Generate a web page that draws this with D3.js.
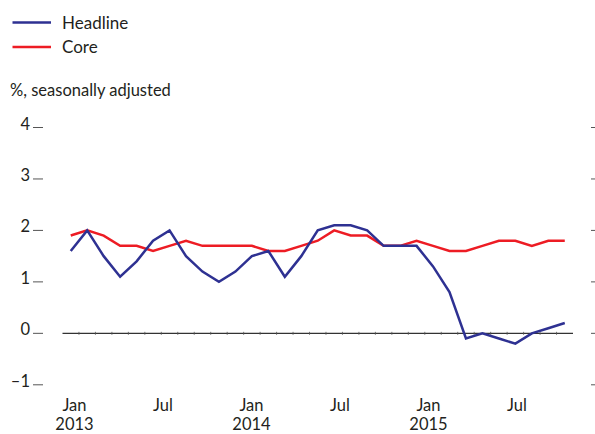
<!DOCTYPE html>
<html>
<head>
<meta charset="utf-8">
<script src="https://cdn.jsdelivr.net/npm/d3@7"></script>
<style>
  body { margin: 0; background: #fff; }
  text { font-family: Lato, "Open Sans", sans-serif; fill: #231f20; }
</style>
</head>
<body>
<div id="chart"></div>
<script>
// monthly data, Jan 2013 - Jul 2015
var headline = [1.6, 2.0, 1.5, 1.1, 1.4, 1.8, 2.0, 1.5, 1.2, 1.0, 1.2, 1.5,
                1.6, 1.1, 1.5, 2.0, 2.1, 2.1, 2.0, 1.7, 1.7, 1.7, 1.3, 0.8,
                -0.1, 0.0, -0.1, -0.2, 0.0, 0.1, 0.2];
var core = [1.9, 2.0, 1.9, 1.7, 1.7, 1.6, 1.7, 1.8, 1.7, 1.7, 1.7, 1.7,
            1.6, 1.6, 1.7, 1.8, 2.0, 1.9, 1.9, 1.7, 1.7, 1.8, 1.7, 1.6,
            1.6, 1.7, 1.8, 1.8, 1.7, 1.8, 1.8];
var yTicks = [4, 3, 2, 1, 0, -1];
var xLabels = [
    {m: 0, mon: "Jan", yr: "2013"},
    {m: 6, mon: "Jul", yr: ""},
    {m: 12, mon: "Jan", yr: "2014"},
    {m: 18, mon: "Jul", yr: ""},
    {m: 24, mon: "Jan", yr: "2015"},
    {m: 30, mon: "Jul", yr: ""}
];
var series = [
    {name: "Headline", values: headline, color: "#2e3192"},
    {name: "Core", values: core, color: "#ed1c24"}
];

var svgWidth = 595;
var svgHeight = 434;

var svg = d3.select("#chart")
    .append("svg")
    .attr("width", svgWidth)
    .attr("height", svgHeight);

// months as boundaries, points sit mid-month
var x = d3.scaleLinear()
    .domain([0, headline.length])
    .range([62.5, 573]);

// axis labels in the original are spaced a bit tighter than the data
var xLab = d3.scaleLinear()
    .domain([0, 30])
    .range([74.5, 517]);

var y = d3.scaleLinear()
    .domain([-1, 4])
    .range([384.8, 127.5]);

// y tick labels + little dashes on both sides
svg.selectAll(".ylab")
    .data(yTicks)
    .enter()
    .append("text")
    .attr("x", 30)
    .attr("y", d => y(d) + 2)
    .attr("text-anchor", "end")
    .style("font-size", "16.5px")
    .text(d => d < 0 ? "\u2013" + Math.abs(d) : d);

svg.selectAll(".ltick")
    .data(yTicks)
    .enter()
    .append("line")
    .attr("x1", 33).attr("x2", 43)
    .attr("y1", d => y(d)).attr("y2", d => y(d))
    .attr("stroke", "#555")
    .attr("stroke-width", 1);

svg.selectAll(".rtick")
    .data(yTicks)
    .enter()
    .append("line")
    .attr("x1", 591).attr("x2", 596)
    .attr("y1", d => y(d)).attr("y2", d => y(d))
    .attr("stroke", "#555")
    .attr("stroke-width", 1);

// zero line with month ticks
svg.append("line")
    .attr("x1", x(0)).attr("x2", x(headline.length))
    .attr("y1", y(0)).attr("y2", y(0))
    .attr("stroke", "#333")
    .attr("stroke-width", 1.3);

svg.selectAll(".mtick")
    .data(d3.range(1, headline.length))
    .enter()
    .append("line")
    .attr("x1", d => x(d)).attr("x2", d => x(d))
    .attr("y1", y(0) - 1.5).attr("y2", y(0) + 1.5)
    .attr("stroke", "#555")
    .attr("stroke-width", 0.8);

// x labels
var labs = svg.selectAll(".xlab")
    .data(xLabels)
    .enter()
    .append("g");

labs.append("text")
    .attr("x", d => xLab(d.m))
    .attr("y", 411)
    .attr("text-anchor", "middle")
    .style("font-size", "16.5px")
    .text(d => d.mon);

labs.append("text")
    .attr("x", d => xLab(d.m))
    .attr("y", 430)
    .attr("text-anchor", "middle")
    .style("font-size", "16.5px")
    .text(d => d.yr);

// lines
var line = d3.line()
    .x((d, i) => x(i + 0.5))
    .y(d => y(d));

svg.selectAll(".series")
    .data(series.slice().reverse())
    .enter()
    .append("path")
    .attr("d", d => line(d.values))
    .attr("fill", "none")
    .attr("stroke", d => d.color)
    .attr("stroke-width", 2.5)
    .attr("stroke-linejoin", "miter");

// legend
var legend = svg.selectAll(".legend")
    .data(series)
    .enter()
    .append("g")
    .attr("transform", (d, i) => `translate(0, ${22.5 + i * 24.5})`);

legend.append("line")
    .attr("x1", 12.5).attr("x2", 51)
    .attr("y1", 0).attr("y2", 0)
    .attr("stroke", d => d.color)
    .attr("stroke-width", 2.5);

legend.append("text")
    .attr("x", 62)
    .attr("y", 6)
    .style("font-size", "17px")
    .text(d => d.name);

svg.append("text")
    .attr("x", 10)
    .attr("y", 96)
    .style("font-size", "16.5px")
    .text("%, seasonally adjusted");
</script>
</body>
</html>
